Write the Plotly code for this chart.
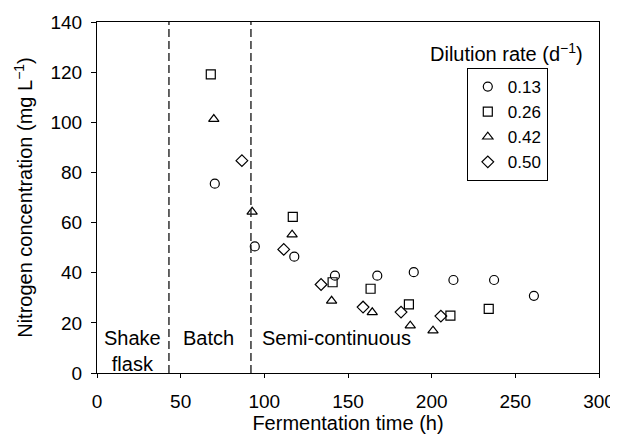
import plotly.graph_objects as go

# Data
t_013 = [70.4, 94.3, 117.9, 142.2, 167.5, 189.3, 213.0, 237.3, 261.1]
n_013 = [75.5, 50.5, 46.4, 38.8, 38.8, 40.2, 37.1, 37.1, 30.8]

t_026 = [68.0, 117.0, 140.8, 163.5, 186.4, 211.2, 234.1]
n_026 = [119.1, 62.3, 36.2, 33.6, 27.4, 22.9, 25.6]

t_042 = [69.8, 92.7, 116.6, 140.2, 164.5, 187.2, 200.8]
n_042 = [101.3, 64.3, 55.2, 28.8, 24.2, 18.9, 16.9]

t_050 = [86.6, 111.6, 133.9, 159.0, 181.7, 205.5]
n_050 = [84.7, 49.3, 35.3, 26.3, 24.3, 22.7]

series_names = ["0.13", "0.26", "0.42", "0.50"]
symbols = ["circle-open", "square-open", "triangle-up-open", "diamond-open"]

phase_boundaries = [43, 92]
phase_labels = ["Shake<br>flask", "Batch", "Semi-continuous"]
phase_label_x = [21.5, 66.5, 143]

FONT = "Liberation Sans, Arial, sans-serif"

fig = go.Figure()
for (xs, ys), name, sym in zip(
    [(t_013, n_013), (t_026, n_026), (t_042, n_042), (t_050, n_050)],
    series_names, symbols):
    fig.add_trace(go.Scatter(
        x=xs, y=ys, mode="markers", name=name,
        marker=dict(symbol=sym, size=9, color="black", line=dict(width=1.2, color="black")),
    ))

for xb in phase_boundaries:
    fig.add_shape(type="line", xref="x", yref="y", x0=xb, x1=xb, y0=0, y1=140,
                  line=dict(color="#222222", width=1.4, dash="8px,4px"))

for lx, lab in zip(phase_label_x, phase_labels):
    fig.add_annotation(x=lx, y=19, xref="x", yref="y", text=lab, showarrow=False,
                       yanchor="top", font=dict(size=20, color="black", family=FONT))

fig.add_annotation(x=0.973, y=0.9145, xref="paper", yref="paper", xanchor="right", yanchor="middle",
                   text="Dilution rate (d<sup>−1</sup>)", showarrow=False,
                   font=dict(size=20, color="black", family=FONT))

fig.update_layout(
    width=610, height=428,
    margin=dict(l=89, r=19, t=14, b=63),
    plot_bgcolor="white", paper_bgcolor="white",
    font=dict(family=FONT, size=19, color="black"),
    showlegend=True,
    legend=dict(x=0.898, y=0.869, xanchor="right", yanchor="top",
                bordercolor="black", borderwidth=1, bgcolor="white",
                font=dict(size=17, family=FONT), itemwidth=30, tracegroupgap=0),
    xaxis=dict(range=[0, 300], tickvals=[0, 50, 100, 150, 200, 250, 300], automargin=False,
               showgrid=False, zeroline=False, showline=True, linecolor="black", linewidth=1,
               mirror=True, ticks="outside", ticklen=4, tickcolor="black",
               tickfont=dict(size=19), ticklabelstandoff=7,
               title=dict(text="Fermentation time (h)", font=dict(size=20), standoff=4)),
    yaxis=dict(range=[0, 140], tickvals=list(range(0, 141, 20)), automargin=False,
               showgrid=False, zeroline=False, showline=True, linecolor="black", linewidth=1,
               mirror=True, ticks="outside", ticklen=5, tickcolor="black",
               tickfont=dict(size=19), ticklabelstandoff=5,
               title=dict(text="Nitrogen concentration (mg L<sup>−1</sup>)", font=dict(size=20), standoff=12)),
)

fig.write_html("out.html")
